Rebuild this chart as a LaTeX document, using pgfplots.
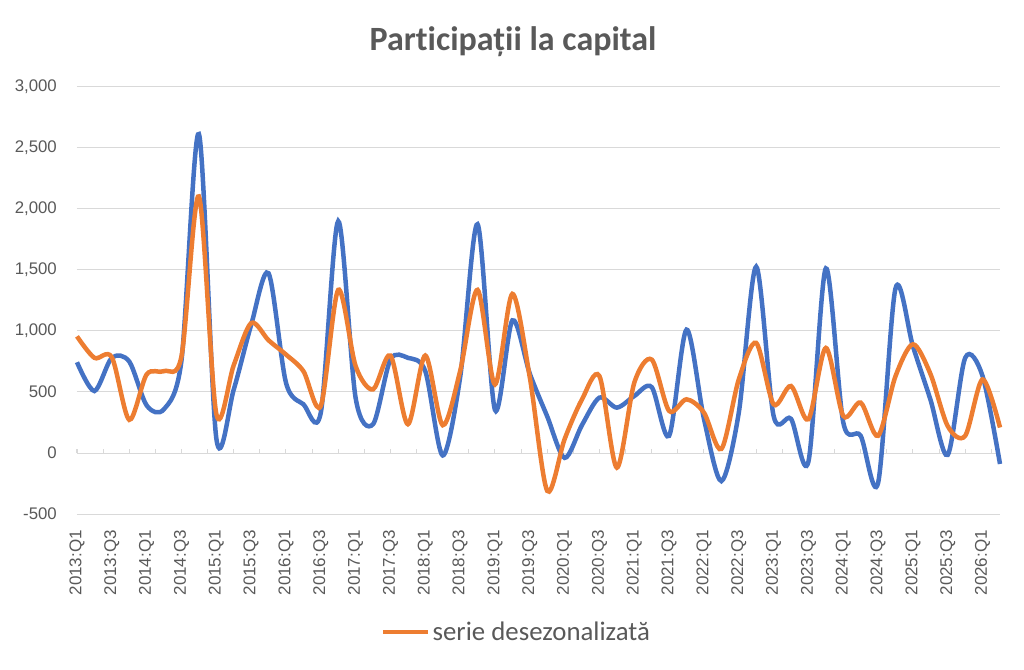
\documentclass[border=0pt]{standalone}
\usepackage{fontspec}
\setmainfont{Carlito}[Ligatures=NoCommon]
\newfontfamily\arialf{Liberation Sans}
\usepackage{pgfplots}
\usepackage{pgfplotstable}
\pgfplotsset{compat=1.18}
\definecolor{sblue}{HTML}{4472C4}
\definecolor{sorange}{HTML}{ED7D31}
\definecolor{gridc}{HTML}{D9D9D9}
\definecolor{txt}{HTML}{595959}

\pgfplotstableread{
i  orig  desez
0  744   956
1  508   780
2  780   785
3  750   272
4  390   644
5  360   671
6  760   793
7  2614  2103
8  120   320
9  520   720
10 1050  1065
11 1473  924
12 576   807
13 400   671
14 331   386
15 1900  1337
16 450   712
17 236   522
18 766   799
19 780   236
20 671   799
21 -20   228
22 620   671
23 1875  1337
24 353   562
25 1087  1304
26 650   620
27 300   -310
28 -40   114
29 230   440
30 454   630
31 372   -120
32 467   576
33 540   766
34 141   345
35 1011  440
36 280   331
37 -230  33
38 330   603
39 1527  902
40 304   399
41 280   549
42 -70   277
43 1513  861
44 250   304
45 141   413
46 -245  141
47 1350  630
48 875   891
49 440   650
50 -15   220
51 780   141
52 630   603
53 -90   209
}\datatable

\begin{document}
\begin{tikzpicture}[x=1pt,y=1pt]
\path[use as bounding box] (0,0) rectangle (1024,669);
\node[anchor=base, text=txt, font=\fontsize{34}{40}\selectfont\bfseries, inner sep=0pt] at (513,618) {Participații la capital};
\begin{axis}[
  at={(77pt,155pt)}, anchor=south west,
  scale only axis, width=923pt, height=427pt,
  xmin=0, xmax=53, ymin=-500, ymax=3000,
  axis line style={draw=none},
  major tick length=0pt,
  tick style={draw=none},
  ytick={-500,0,500,1000,1500,2000,2500,3000},
  yticklabels={-500,0,500,{1,000},{1,500},{2,000},{2,500},{3,000}},
  xtick={0,2,...,52},
  xticklabels={2013:Q1,2013:Q3,2014:Q1,2014:Q3,2015:Q1,2015:Q3,2016:Q1,2016:Q3,2017:Q1,2017:Q3,2018:Q1,2018:Q3,2019:Q1,2019:Q3,2020:Q1,2020:Q3,2021:Q1,2021:Q3,2022:Q1,2022:Q3,2023:Q1,2023:Q3,2024:Q1,2024:Q3,2025:Q1,2025:Q3,2026:Q1},
  xticklabel style={rotate=90, anchor=east, inner sep=0pt, text=txt, font=\arialf\fontsize{17}{19}\selectfont},
  xticklabel shift=16pt,
  yticklabel style={anchor=east, inner sep=0pt, text=txt, font=\arialf\fontsize{16.8}{19}\selectfont},
  yticklabel shift=20pt,
  ymajorgrids,
  major grid style={draw=gridc, line width=1pt},
  clip=false,
  legend style={at={(0.4762,-0.2763)}, anchor=center, draw=none, fill=none,
    font=\fontsize{26.8}{30}\selectfont, text=txt, inner sep=0pt,
    nodes={inner sep=2pt}},
  legend image code/.code={\draw[#1, line width=4.5pt] (0pt,0pt) -- (45pt,0pt);},
]
\pgfplotsinvokeforeach{0,1.5,...,52.5}{\draw[gridc, line width=1pt] (axis cs:#1,0) -- ++(0pt,4pt);}
\addplot[sblue, line width=4.5pt, smooth, forget plot] table[x=i, y=orig] {\datatable};
\addplot[sorange, line width=4.5pt, smooth] table[x=i, y=desez] {\datatable};
\addlegendentry{serie desezonalizată}
\end{axis}
\end{tikzpicture}
\end{document}
